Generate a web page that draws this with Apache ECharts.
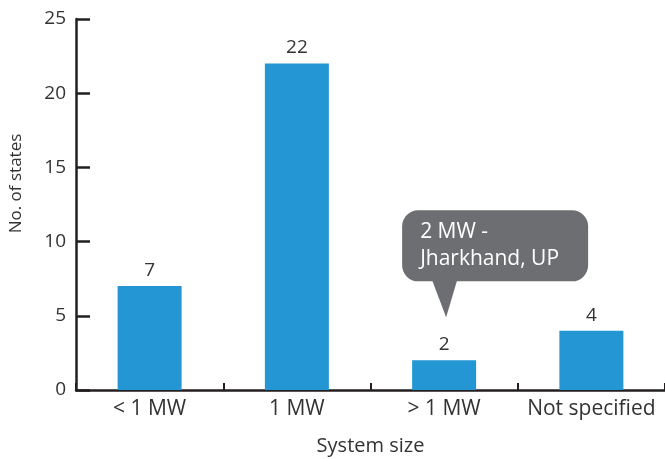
<!DOCTYPE html>
<html>
<head>
<meta charset="utf-8">
<style>
  html, body { margin: 0; padding: 0; background: #fff; }
  #chart { width: 665px; height: 459px; }
</style>
<script src="https://cdn.jsdelivr.net/npm/echarts@6/dist/echarts.min.js"></script>
</head>
<body>
<div id="chart"></div>
<script>
// Number of states by rooftop solar system size limit
var categories = ['< 1 MW', '1 MW', '> 1 MW', 'Not specified'];
var stateCounts = [7, 22, 2, 4];
var yTicks = { min: 0, max: 25, interval: 5 };
var calloutCategory = '> 1 MW';
var calloutLines = ['2 MW -', 'Jharkhand, UP'];

var FONT = '"Open Sans", sans-serif';
var TEXT = '#333333';
var AXIS = '#231f20';

var chart = echarts.init(document.getElementById('chart'), null, { renderer: 'canvas' });

chart.setOption({
  animation: false,
  grid: {
    left: 76, right: 0, top: 19, bottom: 69,
    containLabel: false,
    outerBoundsMode: 'none'
  },
  xAxis: {
    type: 'category',
    data: categories,
    name: 'System size',
    nameLocation: 'middle',
    nameGap: 46,
    nameTextStyle: { fontFamily: FONT, fontSize: 20, color: TEXT },
    axisLine: { show: true, lineStyle: { color: AXIS, width: 2.5 } },
    axisTick: { show: true, inside: true, length: 7, lineStyle: { color: AXIS, width: 2 } },
    axisLabel: { interval: 0, hideOverlap: false, fontFamily: FONT, fontSize: 21, color: TEXT, margin: 9 }
  },
  yAxis: {
    type: 'value',
    min: yTicks.min,
    max: yTicks.max,
    interval: yTicks.interval,
    name: 'No. of states',
    nameLocation: 'middle',
    nameGap: 51,
    nameTextStyle: { fontFamily: FONT, fontSize: 17, color: TEXT, padding: [0, 0, 0, 42] },
    axisLine: { show: true, lineStyle: { color: AXIS, width: 2.5 } },
    axisTick: { show: true, inside: true, length: 14, lineStyle: { color: AXIS, width: 2.5 } },
    axisLabel: { fontFamily: FONT, fontSize: 19, color: TEXT, margin: 10 },
    splitLine: { show: false }
  },
  series: [{
    type: 'bar',
    data: stateCounts,
    barWidth: 64,
    itemStyle: { color: '#2596d4' },
    label: {
      show: true,
      position: 'top',
      distance: 6,
      fontFamily: FONT,
      fontSize: 19,
      color: TEXT
    }
  }]
});

// Speech-bubble callout anchored above the "> 1 MW" bar
function drawCallout() {
  var idx = categories.indexOf(calloutCategory);
  var p = chart.convertToPixel({ seriesIndex: 0 }, [calloutCategory, stateCounts[idx]]);
  var tipX = p[0] + 2, tipY = p[1] - 43;
  var left = tipX - 44, width = 186;
  var bottom = tipY - 36, height = 71;
  var top = bottom - height;
  var fill = '#6d6e71';
  chart.setOption({
    graphic: [
      {
        type: 'rect',
        shape: { x: left, y: top, width: width, height: height, r: 16 },
        style: { fill: fill },
        z: 10
      },
      {
        type: 'polygon',
        shape: { points: [[tipX - 14, bottom - 1], [tipX + 11, bottom - 1], [tipX, tipY]] },
        style: { fill: fill },
        z: 10
      },
      {
        type: 'text',
        x: left + 18,
        y: top + 8,
        style: {
          text: calloutLines.join('\n'),
          fill: '#ffffff',
          font: '21px ' + FONT,
          lineHeight: 27
        },
        z: 11
      }
    ]
  });
}
drawCallout();
</script>
</body>
</html>
